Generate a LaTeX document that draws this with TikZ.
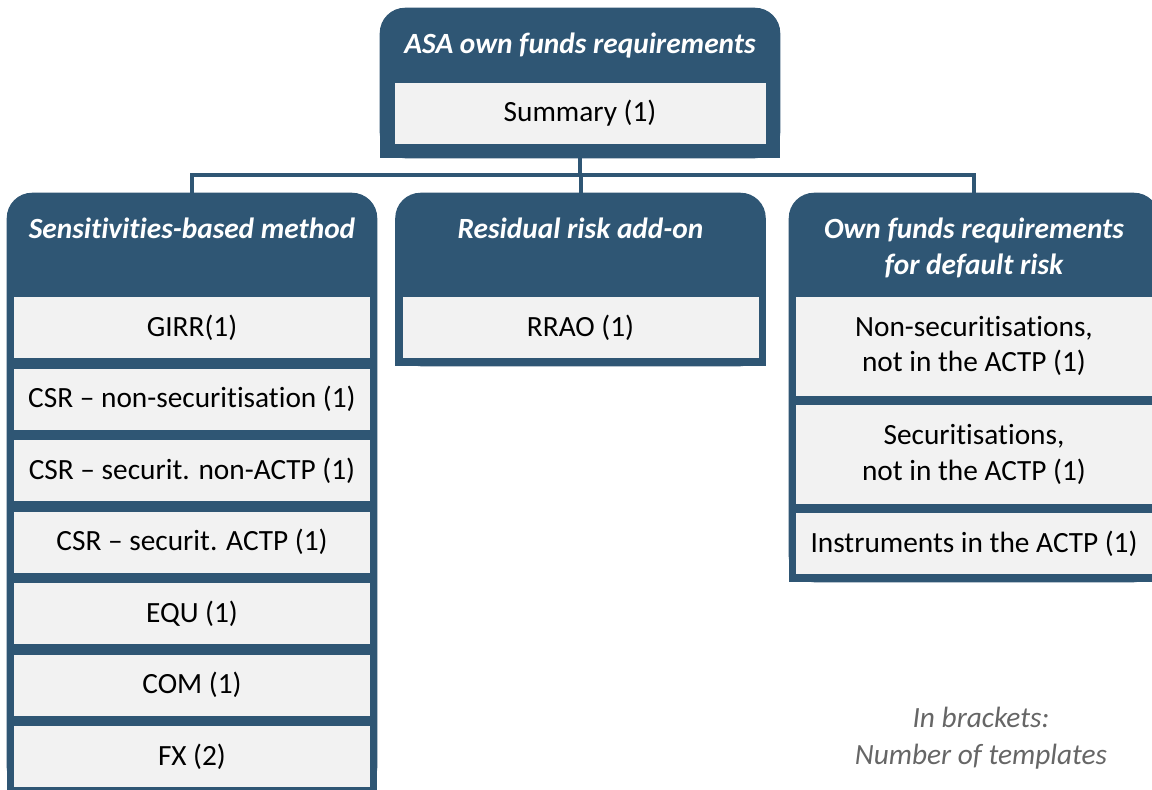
\documentclass[tikz,border=0pt]{standalone}
\usepackage{fontspec}
\setmainfont[Ligatures={TeX,NoCommon}]{Carlito}
\usetikzlibrary{positioning,backgrounds}

\definecolor{panelblue}{HTML}{2F5674}
\definecolor{itemgray}{HTML}{F2F2F2}
\definecolor{notegray}{HTML}{666666}

\begin{document}
\begin{tikzpicture}[
  x=0.75pt, y=0.75pt,
  font=\fontsize{22}{26.5}\selectfont,
  panel/.style={rectangle, inner sep=0pt, minimum width=277.5pt},
  ttl/.style={anchor=north, align=center, inner sep=0pt, text=white,
               font=\fontsize{22}{26.5}\selectfont\bfseries\itshape},
  item/.style={rectangle, fill=itemgray, align=center, inner sep=2pt,
               minimum width=267pt, minimum height=45.75pt},
  item2/.style={item, minimum height=73.9pt},
  link/.style={draw=panelblue, line width=3pt},
  note/.style={align=center, text=notegray,
               font=\fontsize{22}{27.75}\selectfont\itshape},
]
\useasboundingbox (0,0) rectangle (1152,-789);

% ---------- panels ----------
\node[panel, minimum width=300pt, minimum height=112.5pt] (hdr) at (580,-83) {};
\node[panel, minimum height=450pt] (sbm) at (192,-493) {};
\node[panel, minimum height=129.75pt] (rra) at (580.5,-279.5) {};
\node[panel, minimum height=291.75pt] (dft) at (974,-387.5) {};

% ---------- titles ----------
\node[ttl, below=19pt of hdr.north] (hdrttl) {ASA own funds requirements};
\node[ttl, below=19pt of sbm.north] (sbmttl) {Sensitivities-based method};
\node[ttl, below=19pt of rra.north] (rrattl) {Residual risk add-on};
\node[ttl, below=19pt of dft.north] (dftttl) {Own funds requirements\\for default risk};

% ---------- top ----------
\node[item, minimum width=278.25pt, below=56.25pt of hdr.north] (summ) {Summary (1)};

% ---------- sensitivities-based method ----------
\node[item, below=78pt of sbm.north] (girr) {GIRR(1)};
\node[item, below=7.5pt of girr] (csrns) {CSR \textendash{} non-securitisation (1)};
\node[item, below=7.5pt of csrns] (csrsn) {CSR \textendash{} securit. non-ACTP (1)};
\node[item, below=7.5pt of csrsn] (csrsa) {CSR \textendash{} securit. ACTP (1)};
\node[item, below=7.5pt of csrsa] (equ) {EQU (1)};
\node[item, below=7.5pt of equ] (com) {COM (1)};
\node[item, below=7.5pt of com] (fx) {FX (2)};

% ---------- residual risk ----------
\node[item, below=78pt of rra.north] (rrao) {RRAO (1)};

% ---------- default risk ----------
\node[item2, below=78pt of dft.north] (nonsec) {Non-securitisations,\\not in the ACTP (1)};
\node[item2, below=6.75pt of nonsec] (sec) {Securitisations,\\not in the ACTP (1)};
\node[item, below=6.75pt of sec] (actp) {Instruments in the ACTP (1)};

% ---------- note ----------
\node[note] (brk) at (981,-738.5) {In brackets:\\Number of templates};

% ---------- connectors ----------
\coordinate[below=12.75pt of hdr.south] (bus);
\draw[link] (hdr.south) -- (bus);
\draw[link] (bus) -| (sbm.north);
\draw[link] (bus) -| (rra.north);
\draw[link] (bus) -| (dft.north);

% ---------- panel fills (top corners rounded) ----------
\begin{scope}[on background layer]
  \foreach \p in {hdr,sbm,rra,dft}{
    \fill[panelblue, rounded corners=19pt] (\p.north west) rectangle (\p.south east);
    \fill[panelblue] (\p.west) rectangle (\p.south east);
  }
\end{scope}

\end{tikzpicture}
\end{document}
